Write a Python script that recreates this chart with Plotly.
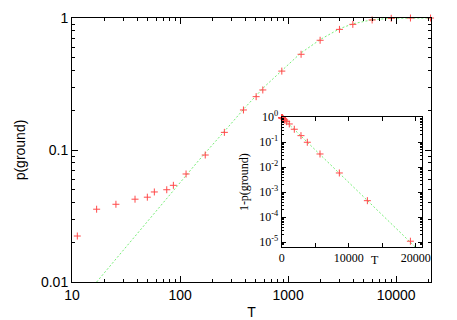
"""
Ground-state probability vs. annealing time T, log-log, with a semilog
inset of 1-p(ground).
"""

import plotly.graph_objects as go


# main panel: measured points
T_MAIN = [11.2, 16.9, 25.5, 38.3, 49.8, 57.8, 75.3, 86.7, 113.6, 171, 257, 386,
          506, 583, 874, 1318, 1977, 2985, 3970, 5990, 9000, 13550, 20800]
P_MAIN = [0.0223, 0.0356, 0.0388, 0.0424, 0.0439, 0.0481, 0.050, 0.054, 0.0658,
          0.0916, 0.136, 0.201, 0.2535, 0.285, 0.396, 0.531, 0.678, 0.82, 0.895,
          0.966, 0.995, 1.0, 1.0]

# main panel: fitted curve
T_FIT = [16.9, 100, 150, 290, 400, 600, 900, 1300, 2000, 3000, 4000, 6000,
         9000, 14000, 21000]
P_FIT = [0.0100, 0.0570, 0.084, 0.155, 0.21, 0.30, 0.41, 0.54, 0.69, 0.83,
         0.905, 0.97, 0.995, 1.0, 1.0]

# inset: 1 - p(ground) on linear T
T_INSET = [11, 17, 26, 38, 50, 58, 75, 87, 114, 171, 245, 370, 493, 747, 1140,
           1888, 2883, 3827, 5722, 8607, 12790, 19213]
Q_INSET = [0.978, 0.964, 0.961, 0.958, 0.956, 0.952, 0.95, 0.946, 0.934, 0.908,
           0.87, 0.80, 0.76, 0.667, 0.54, 0.331, 0.184, 0.10, 0.034, 0.0059,
           0.00046, 0.000011]
T_INSET_FIT = [0, 19900]
Q_INSET_FIT = [1.0, 6.6e-6]

MAIN_XTICKS = [10, 100, 1000, 10000]
MAIN_XTEXT = ["10", "100", "1000", "10000"]
MAIN_YTICKS = [0.01, 0.1, 1]
MAIN_YTEXT = ["0.01", "0.1", "1"]
INSET_XTICKS = [0, 5000, 10000, 15000, 20000]
INSET_XTEXT = ["0", "", "10000", "", "20000"]
INSET_YTICKS = [1, 1e-1, 1e-2, 1e-3, 1e-4, 1e-5]
INSET_YTEXT = ["10<sup>0</sup>", "10<sup>-1</sup>", "10<sup>-2</sup>",
               "10<sup>-3</sup>", "10<sup>-4</sup>", "10<sup>-5</sup>"]

RED = "#ff4a4a"
GREEN = "#77ee77"
SANS = "Liberation Sans, Arial, sans-serif"
SERIF = "Liberation Serif, Times New Roman, serif"

# the page body has an 8px margin, so the figure is drawn 8px smaller
WIDTH, HEIGHT = 449, 312


def log_minors(lo_exp, hi_exp):
    """minor tick positions 2..9 per decade"""
    out = []
    for e in range(lo_exp, hi_exp):
        for m in range(2, 10):
            out.append(m * 10 ** e)
    return out


def axis_style(font, size):
    return dict(
        showline=True, linecolor="black", linewidth=1, mirror="allticks",
        ticks="inside", ticklen=6, tickcolor="black", showgrid=False,
        zeroline=False, automargin=False,
        tickfont=dict(family=font, size=size, color="black"),
    )


fig = go.Figure()

fig.add_trace(go.Scatter(
    x=T_FIT, y=P_FIT, mode="lines",
    line=dict(color=GREEN, width=1, dash="2px,2px"),
    xaxis="x", yaxis="y", showlegend=False,
))
fig.add_trace(go.Scatter(
    x=T_MAIN, y=P_MAIN, mode="markers",
    marker=dict(symbol="cross-thin", size=5, line=dict(color=RED, width=1)),
    xaxis="x", yaxis="y", showlegend=False, cliponaxis=False,
))
fig.add_trace(go.Scatter(
    x=T_INSET_FIT, y=Q_INSET_FIT, mode="lines",
    line=dict(color=GREEN, width=1, dash="2px,2px"),
    xaxis="x2", yaxis="y2", showlegend=False,
))
fig.add_trace(go.Scatter(
    x=T_INSET, y=Q_INSET, mode="markers",
    marker=dict(symbol="cross-thin", size=5, line=dict(color=RED, width=1)),
    xaxis="x2", yaxis="y2", showlegend=False, cliponaxis=False,
))

xmain = axis_style(SANS, 14)
xmain.update(type="log", range=[1, 4.3222], tickvals=MAIN_XTICKS, ticktext=MAIN_XTEXT,
             minor=dict(tickvals=log_minors(1, 5), ticks="inside", ticklen=3,
                        tickcolor="black"),
             domain=[0, 1], anchor="y",
             title=dict(text="T", font=dict(family=SANS, size=14, color="black"),
                        standoff=6))
ymain = axis_style(SANS, 14)
ymain.update(type="log", range=[-2, 0], tickvals=MAIN_YTICKS, ticktext=MAIN_YTEXT,
             minor=dict(tickvals=log_minors(-2, 0), ticks="inside", ticklen=3,
                        tickcolor="black"),
             domain=[0, 1], anchor="x",
             title=dict(text="p(ground)", font=dict(family=SANS, size=14, color="black"),
                        standoff=12))

xin = axis_style(SERIF, 12)
xin.update(range=[0, 21000], tickvals=INSET_XTICKS, ticktext=INSET_XTEXT,
           ticklen=4, domain=[0.584, 0.976], anchor="y2")
yin = axis_style(SERIF, 12)
yin.update(type="log", range=[-5.19, 0], tickvals=INSET_YTICKS, ticktext=INSET_YTEXT,
           ticklen=4,
           minor=dict(tickvals=log_minors(-6, 0), ticks="inside", ticklen=2,
                      tickcolor="black"),
           domain=[0.1326, 0.624], anchor="x2",
           title=dict(text="1-p(ground)", font=dict(family=SERIF, size=12, color="black"),
                      standoff=8))

fig.update_layout(
    width=WIDTH, height=HEIGHT,
    margin=dict(l=64, r=26, t=10, b=38),
    paper_bgcolor="white", plot_bgcolor="white",
    xaxis=xmain, yaxis=ymain, xaxis2=xin, yaxis2=yin,
    shapes=[dict(type="rect", xref="paper", yref="paper", x0=0.584, x1=0.976,
                 y0=0.1326, y1=0.624, fillcolor="white", line=dict(width=0),
                 layer="below")],
    annotations=[dict(text="T", x=0.862, y=0.05, xref="paper", yref="paper",
                      showarrow=False, font=dict(family=SERIF, size=12, color="black"))],
)

fig.write_html("out.html")
